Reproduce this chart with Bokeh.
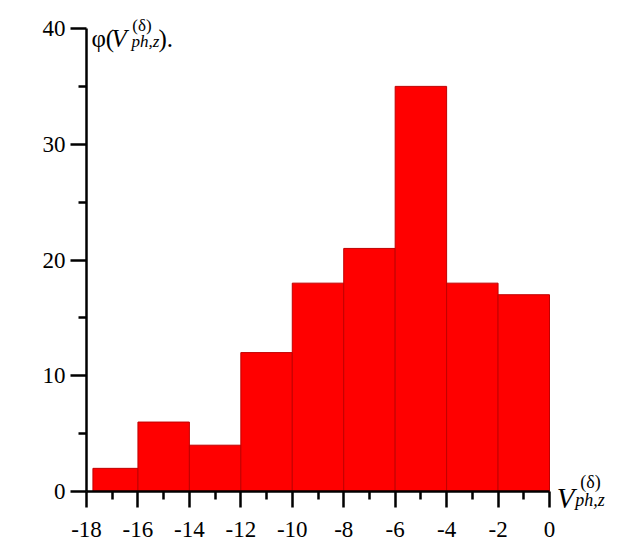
from bokeh.plotting import figure
from bokeh.models import Label, Range1d, FixedTicker
from bokeh.embed import file_html
from bokeh.resources import INLINE

# histogram data
bin_left = [-17.75, -16, -14, -12, -10, -8, -6, -4, -2]
bin_right = [-16, -14, -12, -10, -8, -6, -4, -2, 0]
counts = [2, 6, 4, 12, 18, 21, 35, 18, 17]

x_major = [-18, -16, -14, -12, -10, -8, -6, -4, -2, 0]
x_minor = [-17, -15, -13, -11, -9, -7, -5, -3, -1]
y_major = [0, 10, 20, 30, 40]
y_minor = [5, 15, 25, 35]
x_tick_text = ["-18", "-16", "-14", "-12", "-10", "-8", "-6", "-4", "-2", "0"]

FONT = "Liberation Serif"

W, H = 606, 540
LEFT, BOTTOM = 86, 49
px_x = 463 / 18.0     # pixels per x unit
px_y = 463 / 40.0     # pixels per y unit
x_start = -18 - LEFT / px_x
x_end = -18 + (W - LEFT) / px_x
y_start = -BOTTOM / px_y
y_end = (H - BOTTOM) / px_y

p = figure(width=W, height=H, output_backend="svg", toolbar_location=None,
           x_range=Range1d(x_start, x_end), y_range=Range1d(y_start, y_end),
           min_border_left=0, min_border_right=0, min_border_top=0, min_border_bottom=0)
p.outline_line_color = None
p.grid.visible = False
p.background_fill_color = "white"

p.quad(left=bin_left, right=bin_right, bottom=0, top=counts,
       fill_color="#FF0000", line_color="#C00000", line_width=1)

for ax, maj, mnr, bnd in ((p.xaxis[0], x_major, x_minor, (-18, 0)),
                          (p.yaxis[0], y_major, y_minor, (0, 40))):
    ax.ticker = FixedTicker(ticks=maj, minor_ticks=mnr)
    ax.bounds = bnd
    ax.axis_line_width = 2.5
    ax.axis_line_color = "black"
    ax.major_tick_line_width = 2.5
    ax.minor_tick_line_width = 2.5
    ax.major_tick_out = 16
    ax.major_tick_in = 0
    ax.minor_tick_out = 8
    ax.minor_tick_in = 0
    ax.major_label_text_font = FONT
    ax.major_label_text_font_size = "23px"
    ax.major_label_text_color = "black"

p.xaxis[0].fixed_location = 0
p.yaxis[0].fixed_location = -18
p.xaxis[0].major_label_overrides = {v: t for v, t in zip(x_major, x_tick_text)}
p.xaxis[0].major_label_standoff = 14
p.yaxis[0].major_label_standoff = 5

def lab(x, y, t, size, style="normal"):
    p.add_layout(Label(x=x, y=y, text=t, text_font=FONT, text_font_size=size,
                       text_font_style=style, text_color="black",
                       text_baseline="alphabetic", text_align="left"))

# y-axis label: phi(V_{ph,z}^{(delta)}).
lab(-17.81, 39.14, "φ(", "25px")
lab(-17.03, 39.14, "V", "25px", "italic")
lab(-16.22, 40.3, "(δ)", "17px")
lab(-16.25, 38.9, "ph,z", "17px", "italic")
lab(-15.2, 39.14, ").", "25px")

# x-axis label: V_{ph,z}^{(delta)}
lab(0.28, -0.52, "V", "29px", "italic")
lab(1.2, 0.78, "(δ)", "18px")
lab(1.0, -0.75, "ph,z", "18px", "italic")

open("out.html", "w").write(file_html(p, INLINE))
